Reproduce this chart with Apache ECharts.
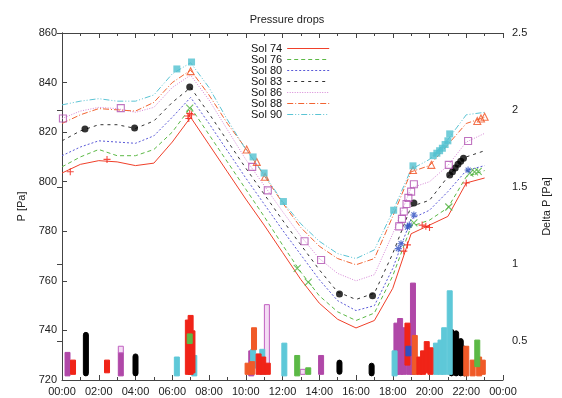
<!DOCTYPE html>
<html>
<head>
<meta charset="utf-8">
<title>Pressure drops</title>
<script src="https://cdn.jsdelivr.net/npm/echarts@6/dist/echarts.min.js"></script>
<style>
  html, body { margin: 0; padding: 0; background: #fff; }
  #main { width: 562px; height: 398px; }
</style>
</head>
<body>
<div id="main"></div>
<script>
// hours of the sol (x axis)
const hours = [0, 1, 2, 3, 4, 5, 6, 7, 8, 9, 10, 11, 12, 13, 14, 15, 16, 17, 18, 19, 20, 21, 22, 23];

// pressure curves [Pa], one value per hour
const sol74 = [803.5, 807, 808.5, 808, 806.5, 807.5, 816, 826, 815, 804, 793, 782.5, 771.5, 760.5, 751, 744.5, 741, 744, 757, 779, 782.5, 786, 799.5, 801.5];
const sol76 = [806, 810, 813, 810.5, 810.5, 813, 820, 830, 819, 808, 797, 786, 774.5, 763.5, 754, 747.5, 744, 747, 762, 782, 784.5, 789.5, 802, 804.5];
const sol80 = [810.5, 814, 816.5, 816, 815.5, 818.5, 826, 834, 823.5, 812.5, 801.5, 791, 780.5, 770.5, 760.5, 752, 748, 750, 765, 785, 788.5, 796, 804.5, 806.5];
const sol83 = [816.5, 820.5, 823, 823, 821.5, 824.5, 832, 838, 827.5, 816.5, 805.5, 795, 784.5, 774.5, 764.5, 755.5, 752.5, 755, 771, 790, 792.5, 802, 810, 812.5];
const sol86 = [825.5, 828.5, 830, 829.5, 828, 830, 838, 843, 833, 821, 809, 798.5, 788, 778, 769, 763, 760, 762.5, 779, 797.5, 800, 806.5, 816, 819.5];
const sol88 = [823.5, 827, 829.5, 829, 828.5, 832, 840, 845, 835, 823.5, 813.5, 802.5, 791.5, 781.5, 774, 769, 766.5, 769, 786, 804, 806.5, 815, 823.5, 826];
const sol90 = [831, 832.5, 833.5, 832.5, 832.5, 835, 843.5, 848, 838, 825, 813, 803, 792, 783, 776, 771, 769, 772.5, 788, 805, 809, 817, 827, 828];

// drop times marked on the curves [hour, P]
const pts74 = [[0.45, 804], [2.45, 809], [6.85, 826.5], [6.95, 827.5], [7.05, 827], [6.9, 825.5], [18.6, 772], [18.8, 774.5], [19.6, 782.5], [19.8, 782], [20.0, 781.5], [22.0, 799.5]];
const pts76 = [[6.95, 829.7], [12.8, 765], [13.4, 759.5], [19.15, 783.4], [21.05, 789.8], [22.2, 803.5], [22.45, 804], [22.65, 804.2]];
const pts80 = [[18.3, 773], [18.45, 775], [18.8, 781.7], [18.9, 782.5], [19.15, 786.6], [22.1, 804.7]];
const pts83 = [[1.25, 821.3], [3.95, 821.7], [6.95, 838.2], [15.1, 754.7], [16.9, 754], [19.15, 791.4], [21.1, 802.7], [21.25, 804], [21.4, 805.5], [21.55, 807], [21.7, 808.3], [21.85, 809.5]];
const pts86 = [[0.05, 825.5], [3.2, 829.7], [10.35, 806], [11.2, 796.5], [13.2, 776], [14.1, 768.4], [18.35, 782], [18.5, 785], [18.6, 788], [18.75, 791], [18.85, 793.5], [19.0, 796], [19.15, 799], [21.05, 806.8], [22.1, 816.4]];
const pts88 = [[7.0, 844.6], [10.05, 813], [10.6, 808], [11.05, 802], [19.1, 804.7], [20.1, 806.8], [22.6, 824.5], [22.8, 825.5], [23.0, 826.2]];
const pts90 = [[6.25, 845.5], [7.05, 848.3], [10.4, 810], [11.0, 803.5], [12.05, 792], [18.05, 788.5], [19.1, 806.4], [20.2, 810.5], [20.4, 811.5], [20.55, 812.5], [20.7, 813.5], [20.85, 815], [21.0, 816.5], [21.1, 819.3]];

// delta P of the drops, stacked columns [hour, lowest, highest]
const ev74 = [[0.6, 0.30, 0.36], [2.45, 0.31, 0.36], [6.85, 0.30, 0.62], [7.0, 0.30, 0.65], [7.1, 0.31, 0.55], [10.7, 0.30, 0.40], [10.95, 0.30, 0.38], [11.2, 0.30, 0.34], [18.8, 0.36, 0.60], [19.45, 0.30, 0.38], [19.65, 0.30, 0.42], [19.85, 0.31, 0.48], [20.05, 0.30, 0.44]];
const ev76 = [[6.95, 0.50, 0.53], [12.8, 0.29, 0.39], [13.4, 0.30, 0.31], [22.6, 0.35, 0.49]];
const ev80 = [[18.85, 0.42, 0.45]];
const ev83 = [[1.3, 0.29, 0.54], [4.0, 0.29, 0.40], [15.1, 0.30, 0.36], [16.85, 0.29, 0.34], [21.2, 0.29, 0.56], [21.45, 0.29, 0.55], [21.7, 0.29, 0.50], [21.9, 0.29, 0.45]];
const ev86 = [[0.3, 0.29, 0.41], [3.2, 0.29, 0.41], [10.3, 0.29, 0.42], [14.1, 0.30, 0.39], [18.2, 0.30, 0.60], [18.4, 0.30, 0.63], [18.6, 0.30, 0.57], [18.9, 0.30, 0.58], [19.1, 0.30, 0.86]];
const ev86open = [[3.2, 0.44, 0.45], [11.15, 0.32, 0.72], [13.1, 0.30, 0.30]];
const ev88 = [[10.1, 0.30, 0.34], [10.35, 0.30, 0.35], [10.45, 0.46, 0.57], [19.2, 0.30, 0.52], [22.0, 0.29, 0.45], [22.35, 0.29, 0.36], [22.7, 0.29, 0.38], [22.9, 0.30, 0.36]];
const ev90 = [[6.25, 0.29, 0.38], [7.2, 0.29, 0.39], [10.4, 0.34, 0.43], [10.9, 0.30, 0.43], [12.1, 0.29, 0.47], [18.1, 0.29, 0.42], [20.35, 0.30, 0.47], [20.6, 0.30, 0.49], [20.8, 0.30, 0.57], [21.1, 0.30, 0.81]];

const legendNames = ["Sol 74", "Sol 76", "Sol 80", "Sol 83", "Sol 86", "Sol 88", "Sol 90"];
const rightTicks = [0.5, 1, 1.5, 2, 2.5];

const FONT = "Liberation Sans";
const AXIS = "#444";

const PLUS = "path://M5,0L5,10M0,5L10,5";
const CROSS = "path://M0,0L10,10M10,0L0,10";
const STAR = "path://M5,0L5,10M0,5L10,5M1.5,1.5L8.5,8.5M8.5,1.5L1.5,8.5";
const SQUARE = "path://M0,0L10,0L10,10L0,10Z";
const TRIANGLE = "path://M5,0L10,9L0,9Z";

const zip = (vals) => hours.map((h, i) => [h, vals[i]]);

function curve(name, vals, color, dash) {
  return {
    name: name,
    type: "line",
    data: zip(vals),
    symbol: "none",
    lineStyle: { color: color, width: 1, type: dash },
    itemStyle: { color: color },
    z: 2
  };
}

function marks(name, data, symbol, size, color, filled) {
  return {
    name: name,
    type: "scatter",
    data: data,
    symbol: symbol,
    symbolSize: size,
    itemStyle: filled
      ? { color: color }
      : { color: "none", borderColor: color, borderWidth: 1.1 },
    z: 4
  };
}

// column of overlapping markers, drawn with the right axis scale
function column(name, data, fill, stroke, r) {
  return {
    name: name,
    type: "custom",
    yAxisIndex: 1,
    data: data,
    encode: { x: 0, y: [1, 2] },
    renderItem: function (params, api) {
      const top = api.coord([api.value(0), api.value(2)]);
      const bot = api.coord([api.value(0), api.value(1)]);
      const w = 5;
      return {
        type: "rect",
        shape: { x: top[0] - w / 2, y: top[1] - w / 2, width: w, height: bot[1] - top[1] + w, r: r },
        style: { fill: fill, stroke: stroke, lineWidth: 1 }
      };
    },
    z: 3
  };
}

const hh = (v) => {
  const h = v % 24;
  return (h < 10 ? "0" : "") + h + ":00";
};

const chart = echarts.init(document.getElementById("main"));

chart.setOption({
  animation: false,
  backgroundColor: "#fff",
  textStyle: { fontFamily: FONT },
  title: {
    text: "Pressure drops",
    left: 282,
    textAlign: "center",
    top: 9,
    textStyle: { fontFamily: FONT, fontSize: 11, fontWeight: "normal", color: "#222" }
  },
  legend: {
    show: true,
    data: legendNames,
    orient: "vertical",
    left: 246,
    top: 38,
    align: "right",
    itemGap: 0,
    itemWidth: 42,
    itemHeight: 11,
    itemStyle: { opacity: 0 },
    lineStyle: { width: 1 },
    textStyle: { fontFamily: FONT, fontSize: 11, color: "#111" }
  },
  grid: { left: 62, right: 59, top: 33, bottom: 18 },
  xAxis: [
    {
      type: "value",
      min: 0,
      max: 24,
      interval: 2,
      axisLine: { lineStyle: { color: AXIS } },
      axisTick: { inside: true, length: 5, lineStyle: { color: AXIS } },
      minorTick: { show: true, splitNumber: 2, length: 3, lineStyle: { color: AXIS } },
      splitLine: { show: false },
      axisLabel: { formatter: hh, fontFamily: FONT, fontSize: 11, color: "#222", margin: 6 }
    },
    {
      type: "value",
      position: "top",
      min: 0,
      max: 24,
      interval: 2,
      axisLine: { lineStyle: { color: AXIS } },
      axisTick: { inside: true, length: 5, lineStyle: { color: AXIS } },
      minorTick: { show: true, splitNumber: 2, length: 3, lineStyle: { color: AXIS } },
      splitLine: { show: false },
      axisLabel: { show: false }
    }
  ],
  yAxis: [
    {
      type: "value",
      min: 720,
      max: 860,
      interval: 20,
      name: "P [Pa]",
      nameLocation: "middle",
      nameGap: 33,
      nameRotate: 90,
      nameTextStyle: { fontFamily: FONT, fontSize: 11, color: "#222" },
      axisLine: { show: true, lineStyle: { color: AXIS } },
      axisTick: { show: true, inside: true, length: 5, lineStyle: { color: AXIS } },
      splitLine: { show: false },
      axisLabel: { fontFamily: FONT, fontSize: 11, color: "#222", margin: 5 }
    },
    {
      type: "value",
      position: "right",
      min: 0.247,
      max: 2.5,
      name: "Delta P [Pa]",
      nameLocation: "middle",
      nameGap: 38,
      nameRotate: 90,
      nameTextStyle: { fontFamily: FONT, fontSize: 11, color: "#222" },
      axisLine: { show: true, lineStyle: { color: AXIS } },
      axisTick: { show: true, inside: true, length: 5, customValues: rightTicks, lineStyle: { color: AXIS } },
      splitLine: { show: false },
      axisLabel: { customValues: rightTicks, fontFamily: FONT, fontSize: 11, color: "#222", margin: 9 }
    }
  ],
  series: [
    curve("Sol 74", sol74, "#f0402a", "solid"),
    curve("Sol 76", sol76, "#5cb946", [4, 3]),
    curve("Sol 80", sol80, "#5a5ad8", [2, 2]),
    curve("Sol 83", sol83, "#333333", [3, 4]),
    curve("Sol 86", sol86, "#d787d7", [1, 1.5]),
    curve("Sol 88", sol88, "#f26432", [6, 2, 1, 2]),
    curve("Sol 90", sol90, "#5bc4d4", [6, 2, 1, 2, 1, 2]),

    column("ev86", ev86, "#b048a8", "#b048a8", 0),
    column("ev86open", ev86open, "#f4dcf4", "#c060c0", 0),
    column("ev83", ev83, "#000000", "#000000", 2.5),
    column("ev90", ev90, "#5ec8d8", "#5ec8d8", 0),
    column("ev88", ev88, "#f05a28", "#f05a28", 0),
    column("ev74", ev74, "#f02418", "#f02418", 0),
    column("ev76", ev76, "#5cb946", "#5cb946", 0),
    column("ev80", ev80, "#3050c0", "#3050c0", 0),

    marks("pts74", pts74, PLUS, 7, "#f01e10", false),
    marks("pts76", pts76, CROSS, 7, "#4cb03c", false),
    marks("pts80", pts80, STAR, 7, "#3050c0", false),
    marks("pts83", pts83, "circle", 7, "#000000", true),
    marks("pts86", pts86, SQUARE, 7, "#b050b0", false),
    marks("pts88", pts88, TRIANGLE, 7, "#f05020", false),
    marks("pts90", pts90, "rect", 7, "#50c0d0", true)
  ]
});
</script>
</body>
</html>
